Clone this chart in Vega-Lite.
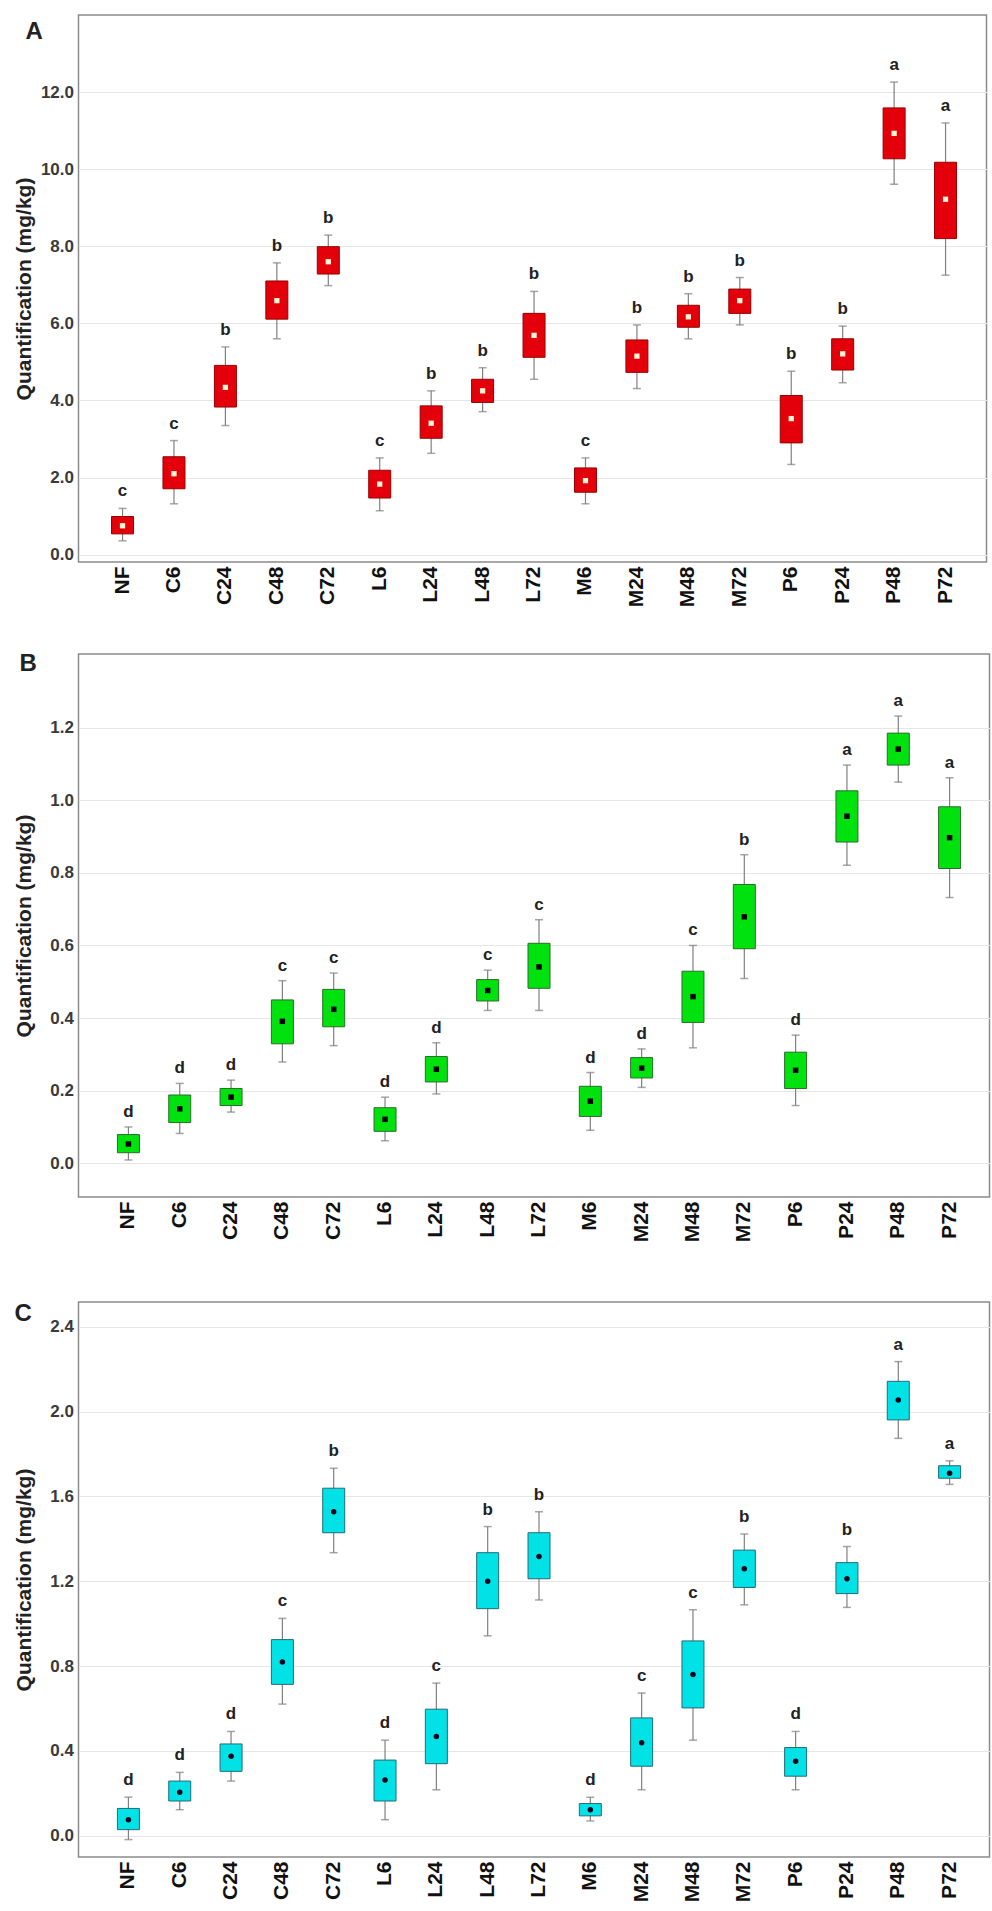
{
  "$schema": "https://vega.github.io/schema/vega-lite/v6.json",
  "background": "white",
  "padding": {"left": 12.5, "top": 14, "right": 1, "bottom": 0},
  "config": {
    "font": "Liberation Sans",
    "view": {"stroke": "#8c8c8c", "strokeWidth": 1.5},
    "axisX": {"labelAngle": -90, "labelFontSize": 21, "labelFontWeight": "bold", "labelColor": "#111", "ticks": false, "domain": false, "title": null, "labelPadding": 4, "grid": false},
    "axisY": {"labelFontSize": 17, "labelFontWeight": "bold", "labelColor": "#3a3a3a", "ticks": false, "domain": false, "grid": true, "gridColor": "#e6e6e6", "gridWidth": 1, "format": ".1f", "labelPadding": 5, "titleFontSize": 21, "titleFontWeight": "bold", "titleColor": "#222"},
    "title": {"fontSize": 24, "fontWeight": "bold", "color": "#222"}
  },
  "datasets": {
    "A": [
      {"grp": "NF", "lo": 0.36, "q1": 0.54, "mid": 0.75, "q3": 0.99, "hi": 1.20, "letter": "c"},
      {"grp": "C6", "lo": 1.32, "q1": 1.71, "mid": 2.10, "q3": 2.54, "hi": 2.96, "letter": "c"},
      {"grp": "C24", "lo": 3.35, "q1": 3.83, "mid": 4.34, "q3": 4.91, "hi": 5.39, "letter": "b"},
      {"grp": "C48", "lo": 5.60, "q1": 6.11, "mid": 6.59, "q3": 7.10, "hi": 7.57, "letter": "b"},
      {"grp": "C72", "lo": 6.98, "q1": 7.28, "mid": 7.60, "q3": 7.99, "hi": 8.29, "letter": "b"},
      {"grp": "L6", "lo": 1.14, "q1": 1.47, "mid": 1.83, "q3": 2.19, "hi": 2.51, "letter": "c"},
      {"grp": "L24", "lo": 2.63, "q1": 3.02, "mid": 3.41, "q3": 3.86, "hi": 4.25, "letter": "b"},
      {"grp": "L48", "lo": 3.71, "q1": 3.95, "mid": 4.25, "q3": 4.55, "hi": 4.85, "letter": "b"},
      {"grp": "L72", "lo": 4.55, "q1": 5.12, "mid": 5.69, "q3": 6.26, "hi": 6.83, "letter": "b"},
      {"grp": "M6", "lo": 1.32, "q1": 1.62, "mid": 1.92, "q3": 2.25, "hi": 2.51, "letter": "c"},
      {"grp": "M24", "lo": 4.31, "q1": 4.73, "mid": 5.15, "q3": 5.57, "hi": 5.96, "letter": "b"},
      {"grp": "M48", "lo": 5.60, "q1": 5.90, "mid": 6.17, "q3": 6.47, "hi": 6.77, "letter": "b"},
      {"grp": "M72", "lo": 5.96, "q1": 6.26, "mid": 6.59, "q3": 6.89, "hi": 7.19, "letter": "b"},
      {"grp": "P6", "lo": 2.34, "q1": 2.90, "mid": 3.53, "q3": 4.13, "hi": 4.76, "letter": "b"},
      {"grp": "P24", "lo": 4.46, "q1": 4.79, "mid": 5.21, "q3": 5.60, "hi": 5.93, "letter": "b"},
      {"grp": "P48", "lo": 9.61, "q1": 10.27, "mid": 10.93, "q3": 11.59, "hi": 12.26, "letter": "a"},
      {"grp": "P72", "lo": 7.25, "q1": 8.20, "mid": 9.22, "q3": 10.18, "hi": 11.20, "letter": "a"}
    ],
    "B": [
      {"grp": "NF", "lo": 0.009, "q1": 0.029, "mid": 0.053, "q3": 0.079, "hi": 0.10, "letter": "d"},
      {"grp": "C6", "lo": 0.082, "q1": 0.112, "mid": 0.15, "q3": 0.188, "hi": 0.22, "letter": "d"},
      {"grp": "C24", "lo": 0.141, "q1": 0.159, "mid": 0.182, "q3": 0.206, "hi": 0.229, "letter": "d"},
      {"grp": "C48", "lo": 0.279, "q1": 0.329, "mid": 0.391, "q3": 0.45, "hi": 0.503, "letter": "c"},
      {"grp": "C72", "lo": 0.324, "q1": 0.376, "mid": 0.424, "q3": 0.479, "hi": 0.524, "letter": "c"},
      {"grp": "L6", "lo": 0.062, "q1": 0.088, "mid": 0.121, "q3": 0.153, "hi": 0.182, "letter": "d"},
      {"grp": "L24", "lo": 0.191, "q1": 0.224, "mid": 0.259, "q3": 0.294, "hi": 0.332, "letter": "d"},
      {"grp": "L48", "lo": 0.421, "q1": 0.447, "mid": 0.476, "q3": 0.506, "hi": 0.532, "letter": "c"},
      {"grp": "L72", "lo": 0.421, "q1": 0.482, "mid": 0.541, "q3": 0.606, "hi": 0.671, "letter": "c"},
      {"grp": "M6", "lo": 0.091, "q1": 0.129, "mid": 0.171, "q3": 0.212, "hi": 0.25, "letter": "d"},
      {"grp": "M24", "lo": 0.209, "q1": 0.235, "mid": 0.262, "q3": 0.291, "hi": 0.315, "letter": "d"},
      {"grp": "M48", "lo": 0.318, "q1": 0.388, "mid": 0.459, "q3": 0.529, "hi": 0.60, "letter": "c"},
      {"grp": "M72", "lo": 0.509, "q1": 0.591, "mid": 0.679, "q3": 0.768, "hi": 0.85, "letter": "b"},
      {"grp": "P6", "lo": 0.159, "q1": 0.206, "mid": 0.256, "q3": 0.306, "hi": 0.353, "letter": "d"},
      {"grp": "P24", "lo": 0.821, "q1": 0.885, "mid": 0.956, "q3": 1.026, "hi": 1.097, "letter": "a"},
      {"grp": "P48", "lo": 1.05, "q1": 1.097, "mid": 1.141, "q3": 1.185, "hi": 1.232, "letter": "a"},
      {"grp": "P72", "lo": 0.732, "q1": 0.812, "mid": 0.897, "q3": 0.982, "hi": 1.062, "letter": "a"}
    ],
    "C": [
      {"grp": "NF", "lo": -0.018, "q1": 0.029, "mid": 0.076, "q3": 0.129, "hi": 0.182, "letter": "d"},
      {"grp": "C6", "lo": 0.123, "q1": 0.164, "mid": 0.205, "q3": 0.258, "hi": 0.299, "letter": "d"},
      {"grp": "C24", "lo": 0.258, "q1": 0.304, "mid": 0.375, "q3": 0.433, "hi": 0.492, "letter": "d"},
      {"grp": "C48", "lo": 0.621, "q1": 0.714, "mid": 0.82, "q3": 0.925, "hi": 1.025, "letter": "c"},
      {"grp": "C72", "lo": 1.335, "q1": 1.429, "mid": 1.528, "q3": 1.639, "hi": 1.733, "letter": "b"},
      {"grp": "L6", "lo": 0.076, "q1": 0.164, "mid": 0.263, "q3": 0.357, "hi": 0.451, "letter": "d"},
      {"grp": "L24", "lo": 0.217, "q1": 0.34, "mid": 0.468, "q3": 0.597, "hi": 0.72, "letter": "c"},
      {"grp": "L48", "lo": 0.943, "q1": 1.071, "mid": 1.2, "q3": 1.335, "hi": 1.458, "letter": "b"},
      {"grp": "L72", "lo": 1.112, "q1": 1.212, "mid": 1.317, "q3": 1.429, "hi": 1.528, "letter": "b"},
      {"grp": "M6", "lo": 0.07, "q1": 0.094, "mid": 0.123, "q3": 0.152, "hi": 0.182, "letter": "d"},
      {"grp": "M24", "lo": 0.217, "q1": 0.328, "mid": 0.439, "q3": 0.556, "hi": 0.673, "letter": "c"},
      {"grp": "M48", "lo": 0.451, "q1": 0.603, "mid": 0.761, "q3": 0.919, "hi": 1.066, "letter": "c"},
      {"grp": "M72", "lo": 1.089, "q1": 1.171, "mid": 1.259, "q3": 1.347, "hi": 1.423, "letter": "b"},
      {"grp": "P6", "lo": 0.217, "q1": 0.281, "mid": 0.351, "q3": 0.416, "hi": 0.492, "letter": "d"},
      {"grp": "P24", "lo": 1.077, "q1": 1.142, "mid": 1.212, "q3": 1.288, "hi": 1.364, "letter": "b"},
      {"grp": "P48", "lo": 1.874, "q1": 1.961, "mid": 2.055, "q3": 2.143, "hi": 2.236, "letter": "a"},
      {"grp": "P72", "lo": 1.657, "q1": 1.686, "mid": 1.71, "q3": 1.745, "hi": 1.768, "letter": "a"}
    ]
  },
  "columns": 1,
  "align": "none",
  "spacing": 58,
  "concat": [
    {
      "columns": 1,
      "align": "none",
      "spacing": 43,
      "concat": [
        {
          "width": 908, "height": 547,
          "data": {"name": "A"},
          "title": {"text": "A", "anchor": "start", "frame": "group", "orient": "top", "baseline": "middle", "offset": -41, "dx": -53},
          "encoding": {"x": {"field": "grp", "type": "nominal", "sort": null, "scale": {"type": "band", "paddingInner": 0, "paddingOuter": 0.326, "align": 0.546}}},
          "layer": [
            {"mark": {"type": "rule", "color": "#808080", "strokeWidth": 1.2},
             "encoding": {"y": {"field": "lo", "type": "quantitative", "title": "Quantification (mg/kg)", "scale": {"domain": [-0.19, 14.0], "nice": false, "zero": false}, "axis": {"values": [0, 2, 4, 6, 8, 10, 12], "titlePadding": 5.5}}, "y2": {"field": "hi"}}},
            {"mark": {"type": "tick", "orient": "horizontal", "size": 8, "thickness": 1.5, "color": "#808080"},
             "encoding": {"y": {"field": "hi", "type": "quantitative", "title": "Quantification (mg/kg)"}}},
            {"mark": {"type": "tick", "orient": "horizontal", "size": 8, "thickness": 1.5, "color": "#808080"},
             "encoding": {"y": {"field": "lo", "type": "quantitative", "title": "Quantification (mg/kg)"}}},
            {"mark": {"type": "bar", "width": 22, "fill": "#e3000a", "stroke": "#950000", "strokeWidth": 1},
             "encoding": {"y": {"field": "q1", "type": "quantitative", "title": "Quantification (mg/kg)"}, "y2": {"field": "q3"}}},
            {"mark": {"type": "point", "shape": "square", "filled": true, "size": 28, "color": "#fff4d6", "opacity": 1},
             "encoding": {"y": {"field": "mid", "type": "quantitative", "title": "Quantification (mg/kg)"}}},
            {"mark": {"type": "text", "fontSize": 17, "fontWeight": "bold", "baseline": "middle", "dy": -17, "color": "#222"},
             "encoding": {"y": {"field": "hi", "type": "quantitative", "title": "Quantification (mg/kg)"}, "text": {"field": "letter"}}}
          ]
        },
        {
          "width": 911, "height": 543,
          "data": {"name": "B"},
          "title": {"text": "B", "anchor": "start", "frame": "group", "orient": "top", "baseline": "middle", "offset": -34, "dx": -59},
          "encoding": {"x": {"field": "grp", "type": "nominal", "sort": null, "scale": {"type": "band", "paddingInner": 0, "paddingOuter": 0.375, "align": 0.63}}},
          "layer": [
            {"mark": {"type": "rule", "color": "#808080", "strokeWidth": 1.2},
             "encoding": {"y": {"field": "lo", "type": "quantitative", "title": "Quantification (mg/kg)", "scale": {"domain": [-0.093, 1.403], "nice": false, "zero": false}, "axis": {"values": [0, 0.2, 0.4, 0.6, 0.8, 1.0, 1.2], "titlePadding": 15}}, "y2": {"field": "hi"}}},
            {"mark": {"type": "tick", "orient": "horizontal", "size": 8, "thickness": 1.5, "color": "#808080"},
             "encoding": {"y": {"field": "hi", "type": "quantitative", "title": "Quantification (mg/kg)"}}},
            {"mark": {"type": "tick", "orient": "horizontal", "size": 8, "thickness": 1.5, "color": "#808080"},
             "encoding": {"y": {"field": "lo", "type": "quantitative", "title": "Quantification (mg/kg)"}}},
            {"mark": {"type": "bar", "width": 22, "fill": "#00e20e", "stroke": "#2b6b2b", "strokeWidth": 1},
             "encoding": {"y": {"field": "q1", "type": "quantitative", "title": "Quantification (mg/kg)"}, "y2": {"field": "q3"}}},
            {"mark": {"type": "point", "shape": "square", "filled": true, "size": 30, "color": "#050505", "opacity": 1},
             "encoding": {"y": {"field": "mid", "type": "quantitative", "title": "Quantification (mg/kg)"}}},
            {"mark": {"type": "text", "fontSize": 17, "fontWeight": "bold", "baseline": "middle", "dy": -15, "color": "#222"},
             "encoding": {"y": {"field": "hi", "type": "quantitative", "title": "Quantification (mg/kg)"}, "text": {"field": "letter"}}}
          ]
        }
      ]
    },
    {
      "width": 911, "height": 555,
      "data": {"name": "C"},
      "title": {"text": "C", "anchor": "start", "frame": "group", "orient": "top", "baseline": "middle", "offset": -36, "dx": -64},
      "encoding": {"x": {"field": "grp", "type": "nominal", "sort": null, "scale": {"type": "band", "paddingInner": 0, "paddingOuter": 0.375, "align": 0.63}}},
      "layer": [
        {"mark": {"type": "rule", "color": "#808080", "strokeWidth": 1.2},
         "encoding": {"y": {"field": "lo", "type": "quantitative", "title": "Quantification (mg/kg)", "scale": {"domain": [-0.1, 2.517], "nice": false, "zero": false}, "axis": {"values": [0, 0.4, 0.8, 1.2, 1.6, 2.0, 2.4], "titlePadding": 15}}, "y2": {"field": "hi"}}},
        {"mark": {"type": "tick", "orient": "horizontal", "size": 8, "thickness": 1.5, "color": "#808080"},
         "encoding": {"y": {"field": "hi", "type": "quantitative", "title": "Quantification (mg/kg)"}}},
        {"mark": {"type": "tick", "orient": "horizontal", "size": 8, "thickness": 1.5, "color": "#808080"},
         "encoding": {"y": {"field": "lo", "type": "quantitative", "title": "Quantification (mg/kg)"}}},
        {"mark": {"type": "bar", "width": 22, "fill": "#00e2e6", "stroke": "#236b78", "strokeWidth": 1},
         "encoding": {"y": {"field": "q1", "type": "quantitative", "title": "Quantification (mg/kg)"}, "y2": {"field": "q3"}}},
        {"mark": {"type": "point", "shape": "circle", "filled": true, "size": 30, "color": "#06061e", "opacity": 1},
         "encoding": {"y": {"field": "mid", "type": "quantitative", "title": "Quantification (mg/kg)"}}},
        {"mark": {"type": "text", "fontSize": 17, "fontWeight": "bold", "baseline": "middle", "dy": -17, "color": "#222"},
         "encoding": {"y": {"field": "hi", "type": "quantitative", "title": "Quantification (mg/kg)"}, "text": {"field": "letter"}}}
      ]
    }
  ]
}
